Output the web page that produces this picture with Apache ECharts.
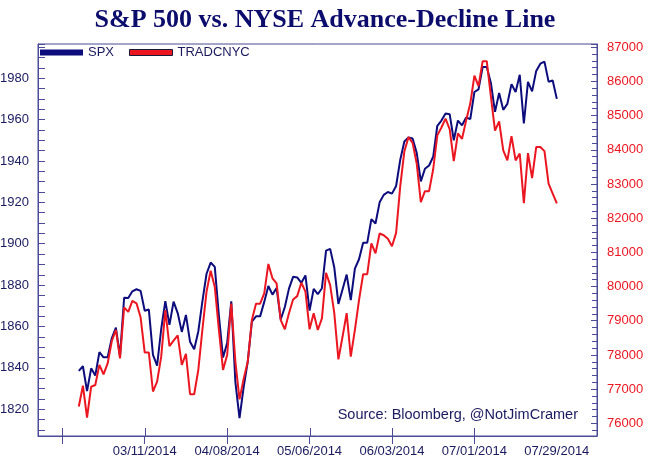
<!DOCTYPE html>
<html>
<head>
<meta charset="utf-8">
<script src="https://cdn.jsdelivr.net/npm/echarts@6/dist/echarts.min.js"></script>
<style>
html,body{margin:0;padding:0;background:#fff;}
#chart{width:650px;height:458px;}
</style>
</head>
<body>
<div id="chart"></div>
<script>
// ---- Data ----
const dates = [
'02/17/2014','02/18/2014','02/19/2014','02/20/2014','02/21/2014','02/24/2014','02/25/2014','02/26/2014','02/27/2014','02/28/2014',
'03/03/2014','03/04/2014','03/05/2014','03/06/2014','03/07/2014','03/10/2014','03/11/2014','03/12/2014','03/13/2014','03/14/2014',
'03/17/2014','03/18/2014','03/19/2014','03/20/2014','03/21/2014','03/24/2014','03/25/2014','03/26/2014','03/27/2014','03/28/2014','03/31/2014',
'04/01/2014','04/02/2014','04/03/2014','04/04/2014','04/07/2014','04/08/2014','04/09/2014','04/10/2014','04/11/2014','04/14/2014',
'04/15/2014','04/16/2014','04/17/2014','04/18/2014','04/21/2014','04/22/2014','04/23/2014','04/24/2014','04/25/2014','04/28/2014','04/29/2014','04/30/2014',
'05/01/2014','05/02/2014','05/05/2014','05/06/2014','05/07/2014','05/08/2014','05/09/2014','05/12/2014','05/13/2014','05/14/2014',
'05/15/2014','05/16/2014','05/19/2014','05/20/2014','05/21/2014','05/22/2014','05/23/2014','05/26/2014','05/27/2014','05/28/2014','05/29/2014','05/30/2014',
'06/02/2014','06/03/2014','06/04/2014','06/05/2014','06/06/2014','06/09/2014','06/10/2014','06/11/2014','06/12/2014','06/13/2014',
'06/16/2014','06/17/2014','06/18/2014','06/19/2014','06/20/2014','06/23/2014','06/24/2014','06/25/2014','06/26/2014','06/27/2014','06/30/2014',
'07/01/2014','07/02/2014','07/03/2014','07/04/2014','07/07/2014','07/08/2014','07/09/2014','07/10/2014','07/11/2014','07/14/2014',
'07/15/2014','07/16/2014','07/17/2014','07/18/2014','07/21/2014','07/22/2014','07/23/2014','07/24/2014','07/25/2014','07/28/2014','07/29/2014'
];
const spx = [
1838.6,1840.8,1828.8,1839.8,1836.3,1847.6,1845.1,1845.2,1854.3,1859.5,
1845.7,1873.9,1873.8,1877.0,1878.0,1877.2,1867.6,1868.2,1846.3,1841.1,
1858.8,1872.3,1860.8,1872.0,1866.5,1857.4,1865.6,1852.6,1849.0,1857.6,1872.3,
1885.5,1890.9,1888.8,1865.1,1845.0,1852.0,1872.2,1833.1,1815.7,1830.6,
1843.0,1862.3,1864.9,1864.9,1871.9,1879.6,1875.4,1878.6,1863.4,1869.4,1878.3,1884.0,
1883.7,1881.1,1884.7,1867.7,1878.2,1875.6,1878.5,1896.7,1897.5,1888.5,
1870.9,1877.9,1885.1,1872.8,1888.0,1892.5,1900.5,1900.5,1911.9,1909.8,1920.0,1923.6,
1925.0,1924.2,1927.9,1940.5,1949.4,1951.3,1950.8,1943.9,1930.1,1936.2,
1937.8,1942.0,1957.0,1959.5,1962.9,1962.6,1950.0,1959.5,1957.2,1961.0,1960.2,
1973.3,1974.6,1985.4,1985.4,1977.7,1963.7,1972.8,1964.7,1967.6,1977.1,
1973.3,1981.6,1958.1,1978.2,1973.6,1983.5,1987.0,1988.0,1978.3,1978.9,1970.0
];
const tradcnyc = [
76490,77100,76170,77070,77120,77710,77430,77750,78400,78730,
77900,79390,79260,79580,79510,79100,78070,78070,76930,77220,
77950,79310,78260,78420,78570,77710,78030,76850,76850,77560,78750,
79850,80460,79990,78730,77560,78000,79500,77800,76700,77300,
77800,79020,79500,79500,79800,80660,80240,80090,79020,78750,79220,79620,
79720,80110,79850,78750,79220,78730,79070,80400,80040,79220,
77870,78530,79220,77950,78730,79600,80360,80360,81260,80970,81550,81500,
81400,81180,81570,82930,83950,84370,84200,83600,82470,82790,
82790,83430,84420,84650,84910,84600,83670,84480,84320,84860,85350,
86170,85860,86590,86590,85560,84560,84830,83980,83690,84400,
83690,83890,82440,83900,83170,84080,84080,83960,83010,82720,82430
];
const xTickDates = ['02/11/2014','03/11/2014','04/08/2014','05/06/2014','06/03/2014','07/01/2014'];
const xLabelDates = ['03/11/2014','04/08/2014','05/06/2014','06/03/2014','07/01/2014','07/29/2014'];

// ---- helpers: weekday-index scale (weekdays evenly spaced) ----
function wd(s){
  const p = s.split('/').map(Number);
  const t = Date.UTC(p[2], p[0]-1, p[1]);
  const t0 = Date.UTC(2014, 1, 17); // Monday
  const days = Math.round((t - t0) / 864e5);
  const weeks = Math.floor(days / 7);
  const rem = days - weeks * 7;
  return weeks * 5 + Math.min(rem, 5);
}
const labelMap = {};
xLabelDates.forEach(d => { labelMap[wd(d)] = d; });

const AX = '#4b4b98';
const NAVY = '#1a1a5e';
const BLUE = '#0c0c7c';
const RED = '#ec1620';
const FONT = '"Liberation Sans", Arial, sans-serif';

const LMIN = 1807.1, LMAX = 1996.5, RMIN = 75629, RMAX = 87093;
const XMIN = -9.9, XMAX = 125.75;
const GL = 38, GR = 53, GT = 44, GB = 22, W = 650, H = 458;
const plain = v => String(Math.round(v));

const chart = echarts.init(document.getElementById('chart'), null, {renderer: 'canvas'});
chart.setOption({
  animation: false,
  backgroundColor: '#ffffff',
  title: {
    text: 'S&P 500 vs. NYSE Advance-Decline Line',
    left: 'center', top: 2,
    textStyle: {fontFamily: '"Liberation Serif", "Times New Roman", serif', fontWeight: 'bold', fontSize: 26, color: '#0c0c6c'}
  },
  legend: {
    left: 40, top: 46, padding: 0,
    icon: 'rect', itemWidth: 43, itemHeight: 6, itemGap: 15,
    textStyle: {fontFamily: FONT, fontSize: 13, color: NAVY},
    data: [
      {name: 'SPX', itemStyle: {color: BLUE}},
      {name: 'TRADCNYC', itemStyle: {color: RED, borderColor: '#1a1a3a', borderWidth: 1}}
    ]
  },
  grid: {left: GL, right: GR, top: GT, bottom: GB, containLabel: false, outerBoundsMode: 'none',
    show: true, borderColor: AX, borderWidth: 1, backgroundColor: 'transparent'},
  xAxis: {
    type: 'value', min: XMIN, max: XMAX, position: 'bottom',
    axisLine: {show: true, onZero: false, lineStyle: {color: AX, width: 1}},
    axisTick: {show: true, inside: false, length: 8, customValues: xTickDates.map(wd), lineStyle: {color: AX}},
    axisLabel: {show: true, customValues: xLabelDates.map(wd), margin: 9, fontFamily: FONT, fontSize: 13, color: NAVY,
      formatter: v => labelMap[Math.round(v)] || ''},
    splitLine: {show: false}
  },
  yAxis: [
    {
      type: 'value', min: LMIN, max: LMAX, splitNumber: 9, position: 'left',
      axisLine: {show: true, onZero: false, lineStyle: {color: AX, width: 1}},
      axisTick: {show: true, inside: true, length: 7, lineStyle: {color: AX}},
      minorTick: {show: true, splitNumber: 4, length: 7, lineStyle: {color: AX, width: 1}},
      axisLabel: {show: true, showMinLabel: false, showMaxLabel: false, margin: 9, fontFamily: FONT, fontSize: 13, color: NAVY, formatter: plain},
      splitLine: {show: false}, minorSplitLine: {show: false}
    },
    {
      type: 'value', min: RMIN, max: RMAX, splitNumber: 11, position: 'right',
      axisLine: {show: true, onZero: false, lineStyle: {color: AX, width: 1}},
      axisTick: {show: true, inside: true, length: 6, lineStyle: {color: AX}},
      minorTick: {show: true, splitNumber: 5, length: 5, lineStyle: {color: AX, width: 1}},
      axisLabel: {show: true, showMinLabel: false, showMaxLabel: false, margin: 10, fontFamily: FONT, fontSize: 13, color: RED, formatter: plain},
      splitLine: {show: false}, minorSplitLine: {show: false}
    }
  ],
  series: [
    {
      name: 'SPX', type: 'line', xAxisIndex: 0, yAxisIndex: 0, z: 3,
      showSymbol: false, symbol: 'none',
      lineStyle: {color: BLUE, width: 2}, itemStyle: {color: BLUE},
      data: spx.map((v, k) => [wd(dates[k]), v])
    },
    {
      name: 'TRADCNYC', type: 'line', xAxisIndex: 0, yAxisIndex: 1, z: 3,
      showSymbol: false, symbol: 'none',
      lineStyle: {color: RED, width: 2}, itemStyle: {color: RED},
      data: tradcnyc.map((v, k) => [wd(dates[k]), v])
    }
  ]
});

// ---- inner half of the date ticks (axis furniture) + source note ----
function px(finder, v, lo, hi, p0, p1){
  let r;
  try { r = chart.convertToPixel(finder, v); } catch (e) { r = undefined; }
  if (Array.isArray(r)) r = r[0];
  if (typeof r !== 'number' || !isFinite(r)) r = p0 + (v - lo) / (hi - lo) * (p1 - p0);
  return r;
}
const plotL = GL, plotR = W - GR, plotB = H - GB;
const gfx = [];
xTickDates.forEach(d => {
  const x = Math.round(px({xAxisIndex: 0}, wd(d), XMIN, XMAX, plotL, plotR));
  gfx.push({type: 'rect', silent: true, z: 50, shape: {x: x, y: plotB - 8, width: 1, height: 8}, style: {fill: AX}});
});
gfx.push({
  type: 'text', x: 578, y: 415, silent: true, z: 50,
  style: {text: 'Source: Bloomberg, @NotJimCramer', align: 'right', verticalAlign: 'middle',
    font: '14.5px "Liberation Sans", Arial, sans-serif', fill: NAVY}
});
chart.setOption({graphic: {elements: gfx}});
</script>
</body>
</html>
